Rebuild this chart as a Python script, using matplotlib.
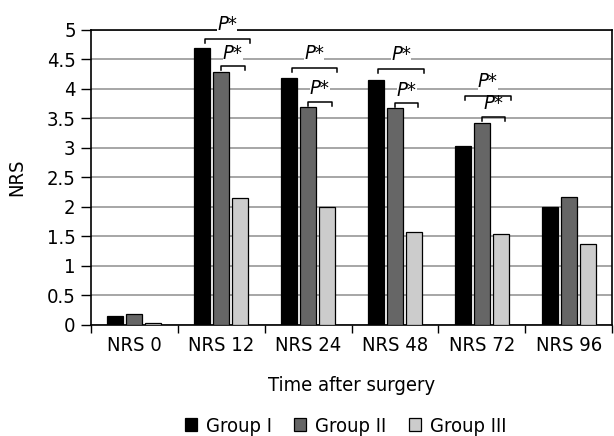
import matplotlib
matplotlib.use('Agg')
import matplotlib.pyplot as plt
import numpy as np
from matplotlib import font_manager

# data
categories = ['NRS 0', 'NRS 12', 'NRS 24', 'NRS 48', 'NRS 72', 'NRS 96']
group_1 = [0.16, 4.70, 4.18, 4.15, 3.04, 2.00]
group_2 = [0.18, 4.28, 3.69, 3.67, 3.42, 2.17]
group_3 = [0.04, 2.15, 2.00, 1.57, 1.55, 1.37]
series_names = ['Group I', 'Group II', 'Group III']

# significance brackets: (category index, bracket height) for I vs III and II vs III
outer_brackets = [(1, 4.85), (2, 4.36), (3, 4.34), (4, 3.88)]
inner_brackets = [(1, 4.39), (2, 3.78), (3, 3.76), (4, 3.53)]

# a narrow face is closest to the original; use one if installed
narrow = [f for f in font_manager.fontManager.ttflist
          if f.stretch in ('condensed', 'semi-condensed', 'extra-condensed', 500, 400, 300)
          or 'Condensed' in f.name or 'Narrow' in f.name]
stretch = 'normal'
family = 'DejaVu Sans'
for f in narrow:
    if f.style == 'normal' and f.weight in (400, 'normal', 'regular'):
        family = f.name
        stretch = f.stretch
        break
plt.rcParams['font.family'] = [family, 'DejaVu Sans']
plt.rcParams['font.stretch'] = stretch
fs = 14.5

fig = plt.figure(figsize=(6.14, 4.36), dpi=100)
ax = fig.add_axes([0.148, 0.2546, 0.849, 0.6766])

x = np.arange(len(categories))
w = 0.185
step = 0.22
colors = ['#000000', '#666666', '#cccccc']
for i, vals in enumerate([group_1, group_2, group_3]):
    ax.bar(x + (i - 1) * step, vals, width=w, color=colors[i],
           edgecolor='#000000', linewidth=0.9, label=series_names[i], zorder=3)

ax.set_xlim(-0.5, len(categories) - 0.5)
ax.set_ylim(0, 5)
ax.set_yticks(np.arange(0, 5.01, 0.5))
ax.set_yticklabels(['0', '0.5', '1', '1.5', '2', '2.5', '3', '3.5', '4', '4.5', '5'])
ax.yaxis.grid(True, color='#a6a6a6', linewidth=1.4, zorder=0)
ax.set_axisbelow(True)

ax.set_xticks(x)
ax.set_xticklabels(categories)
ax.set_xticks(np.arange(-0.5, len(categories)), minor=True)
ax.tick_params(axis='x', which='major', length=0, labelsize=fs, pad=8)
ax.tick_params(axis='x', which='minor', length=6, width=1, direction='out')
ax.tick_params(axis='y', length=7, width=1, labelsize=fs, pad=4)

for s in ax.spines.values():
    s.set_linewidth(1.2)
    s.set_color('#000000')

ax.set_ylabel('NRS', fontsize=fs, labelpad=15)
ax.set_xlabel('Time after surgery', fontsize=fs, labelpad=15)


def bracket(cat, y, x0, x1, label_dy):
    xs = [cat + x0, cat + x0, cat + x1, cat + x1]
    ys = [y - 0.07, y, y, y - 0.07]
    ax.plot(xs, ys, color='#000000', linewidth=1.1, clip_on=False, zorder=7)
    ax.text(cat + (x0 + x1) / 2, y + label_dy, 'P*', style='italic', fontsize=fs,
            ha='center', va='center', clip_on=False, zorder=6,
            bbox=dict(facecolor='white', edgecolor='none', pad=0.2))


for cat, y in outer_brackets:
    bracket(cat, y, -0.19, 0.33, 0.24)
for cat, y in inner_brackets:
    bracket(cat, y, 0.0, 0.27, 0.22)

handles, labels = ax.get_legend_handles_labels()
fig.legend(handles, labels, loc='center', bbox_to_anchor=(0.563, 0.022), ncol=3,
           frameon=False, fontsize=fs, handlelength=0.6, handleheight=0.6,
           handletextpad=0.45, columnspacing=1.1)

fig.savefig('out.png', dpi=100)
